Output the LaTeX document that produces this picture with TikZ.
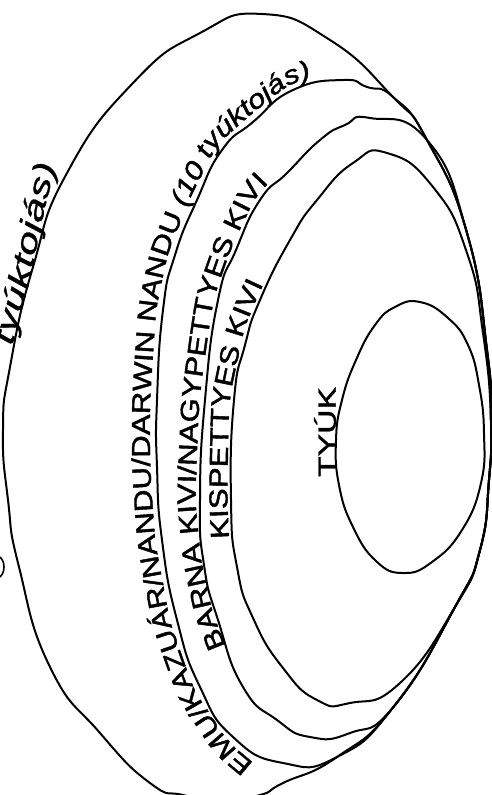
\documentclass[tikz,border=0pt]{standalone}
\usepackage{fontspec}
\newfontfamily\lblfam{Liberation Sans}[FakeStretch=1.2, FakeBold=1.6]
\newfontfamily\bigfam{Liberation Sans}[FakeStretch=1.45, FakeBold=1]
\newfontfamily\tyukfam{Liberation Sans}[FakeStretch=1.35, FakeBold=1.6]
\usetikzlibrary{decorations.text}
\newcommand{\lblfont}{\lblfam\fontsize{26}{28}\selectfont}
\newcommand{\lblitfont}{\lblfam\itshape\fontsize{26}{28}\selectfont}
\newcommand{\bigitfont}{\bigfam\itshape\fontsize{30}{32}\selectfont}
\newcommand{\tyukfont}{\tyukfam\fontsize{25}{27}\selectfont}
\tikzset{
  egg/.style={draw=black, line width=2pt, line join=round},
  midlbl/.style={decorate, decoration={text along path, text align=center, text={#1}}},
  rightlbl/.style={decorate, decoration={text along path, text align=right, text={#1}}},
}
\begin{document}
\begin{tikzpicture}[x=1pt, y=-1pt]
\useasboundingbox (0,0) rectangle (492,795);
\clip (0,0) rectangle (492,795);
\fill[white] (0,0) rectangle (492,795);
% outer egg
\draw[egg] plot[smooth cycle, tension=0.9] coordinates {(262,14) (330,40) (393,97) (427,140) (467,233) (487,350) (491,420) (489,480) (480,550) (455,607) (395,705) (337,757) (283,783) (260,795) (222,800) (183,795) (150,783) (100,733) (50,667) (19,567) (8,500) (3,430) (10,367) (33,267) (67,173) (133,83) (200,33)};
% emu / nandu
\draw[egg] plot[smooth cycle, tension=0.9] coordinates {(343,80) (367,87) (393,97) (427,140) (467,233) (487,350) (491,420) (489,480) (480,550) (455,607) (395,705) (337,757) (283,763) (233,737) (200,687) (177,620) (162,540) (157,467) (157,400) (163,310) (175,255) (197,200) (222,150) (253,122) (293,90)};
% barna / nagypettyes kivi
\draw[egg] plot[smooth cycle, tension=0.9] coordinates {(370,118) (427,140) (467,233) (487,350) (491,420) (489,480) (480,550) (455,607) (395,705) (350,733) (310,737) (277,720) (243,687) (218,620) (204,565) (200,500) (205,400) (218,300) (236,250) (260,200) (287,173) (320,140) (345,125)};
% kispettyes kivi
\draw[egg] plot[smooth cycle, tension=0.9] coordinates {(387,153) (433,187) (467,253) (483,333) (491,420) (489,480) (480,550) (455,607) (400,683) (350,703) (317,700) (283,668) (253,618) (237,567) (231,500) (234,400) (245,345) (260,300) (290,240) (317,200) (353,163)};
% tyuk
\draw[egg] plot[smooth cycle, tension=0.8] coordinates {(420,302) (448,318) (468,345) (479,385) (484,433) (481,483) (462,530) (432,562) (403,573) (376,561) (353,527) (339,485) (336,440) (342,400) (356,360) (375,325) (395,307)};
% fragment of a cut-off letter at the left edge
\draw[line width=1.6pt] (-2,556) .. controls (6,559) and (6,575) .. (-2,578);
% labels along the curves
\path[midlbl={|\lblfont|EMU/KAZUÁR/NANDU/DARWIN NANDU |\lblitfont|(10 tyúktojás)}]
  (262,770) .. controls (229,743) .. (211.5,716.5) .. controls (194,690) .. (182,656) .. controls (170,622) .. (162.5,581.5) .. controls (155,541) .. (152.5,504) .. controls (150,467) .. (150,433.5) .. controls (150,400) .. (153,354.5) .. controls (156,309) .. (162,281) .. controls (168,253) .. (179.5,224.5) .. controls (191,196) .. (204,170.5) .. controls (217,145) .. (233,130.5) .. controls (249,116) .. (270,99.5) .. controls (291,83) .. (322,75);
\path[midlbl={|\lblfont|BARNA KIVI/NAGYPETTYES KIVI}]
  (235,668) .. controls (213,615) .. (207,587.5) .. controls (201,560) .. (198,530) .. controls (195,500) .. (197,450) .. controls (199,400) .. (206,350) .. controls (213,300) .. (222.5,273) .. controls (232,246) .. (244.5,220) .. controls (257,194) .. (286,166);
\path[midlbl={|\lblfont|KISPETTYES KIVI}]
  (230,556) .. controls (227,500) .. (228,450) .. controls (229,400) .. (236.5,365) .. controls (244,330) .. (250,315) .. controls (256,300) .. (271,268);
\path[rightlbl={|\bigitfont|tyúktojás)}]
  (4,380) .. controls (16,330) .. (23,305) .. controls (30,280) .. (35,255) .. controls (40,230) .. (44,212.5) .. controls (48,195) .. (56,165);
\node[rotate=90, font=\tyukfont, inner sep=0pt] (tyuk) at (325,432) {TYÚK};
\end{tikzpicture}
\end{document}
